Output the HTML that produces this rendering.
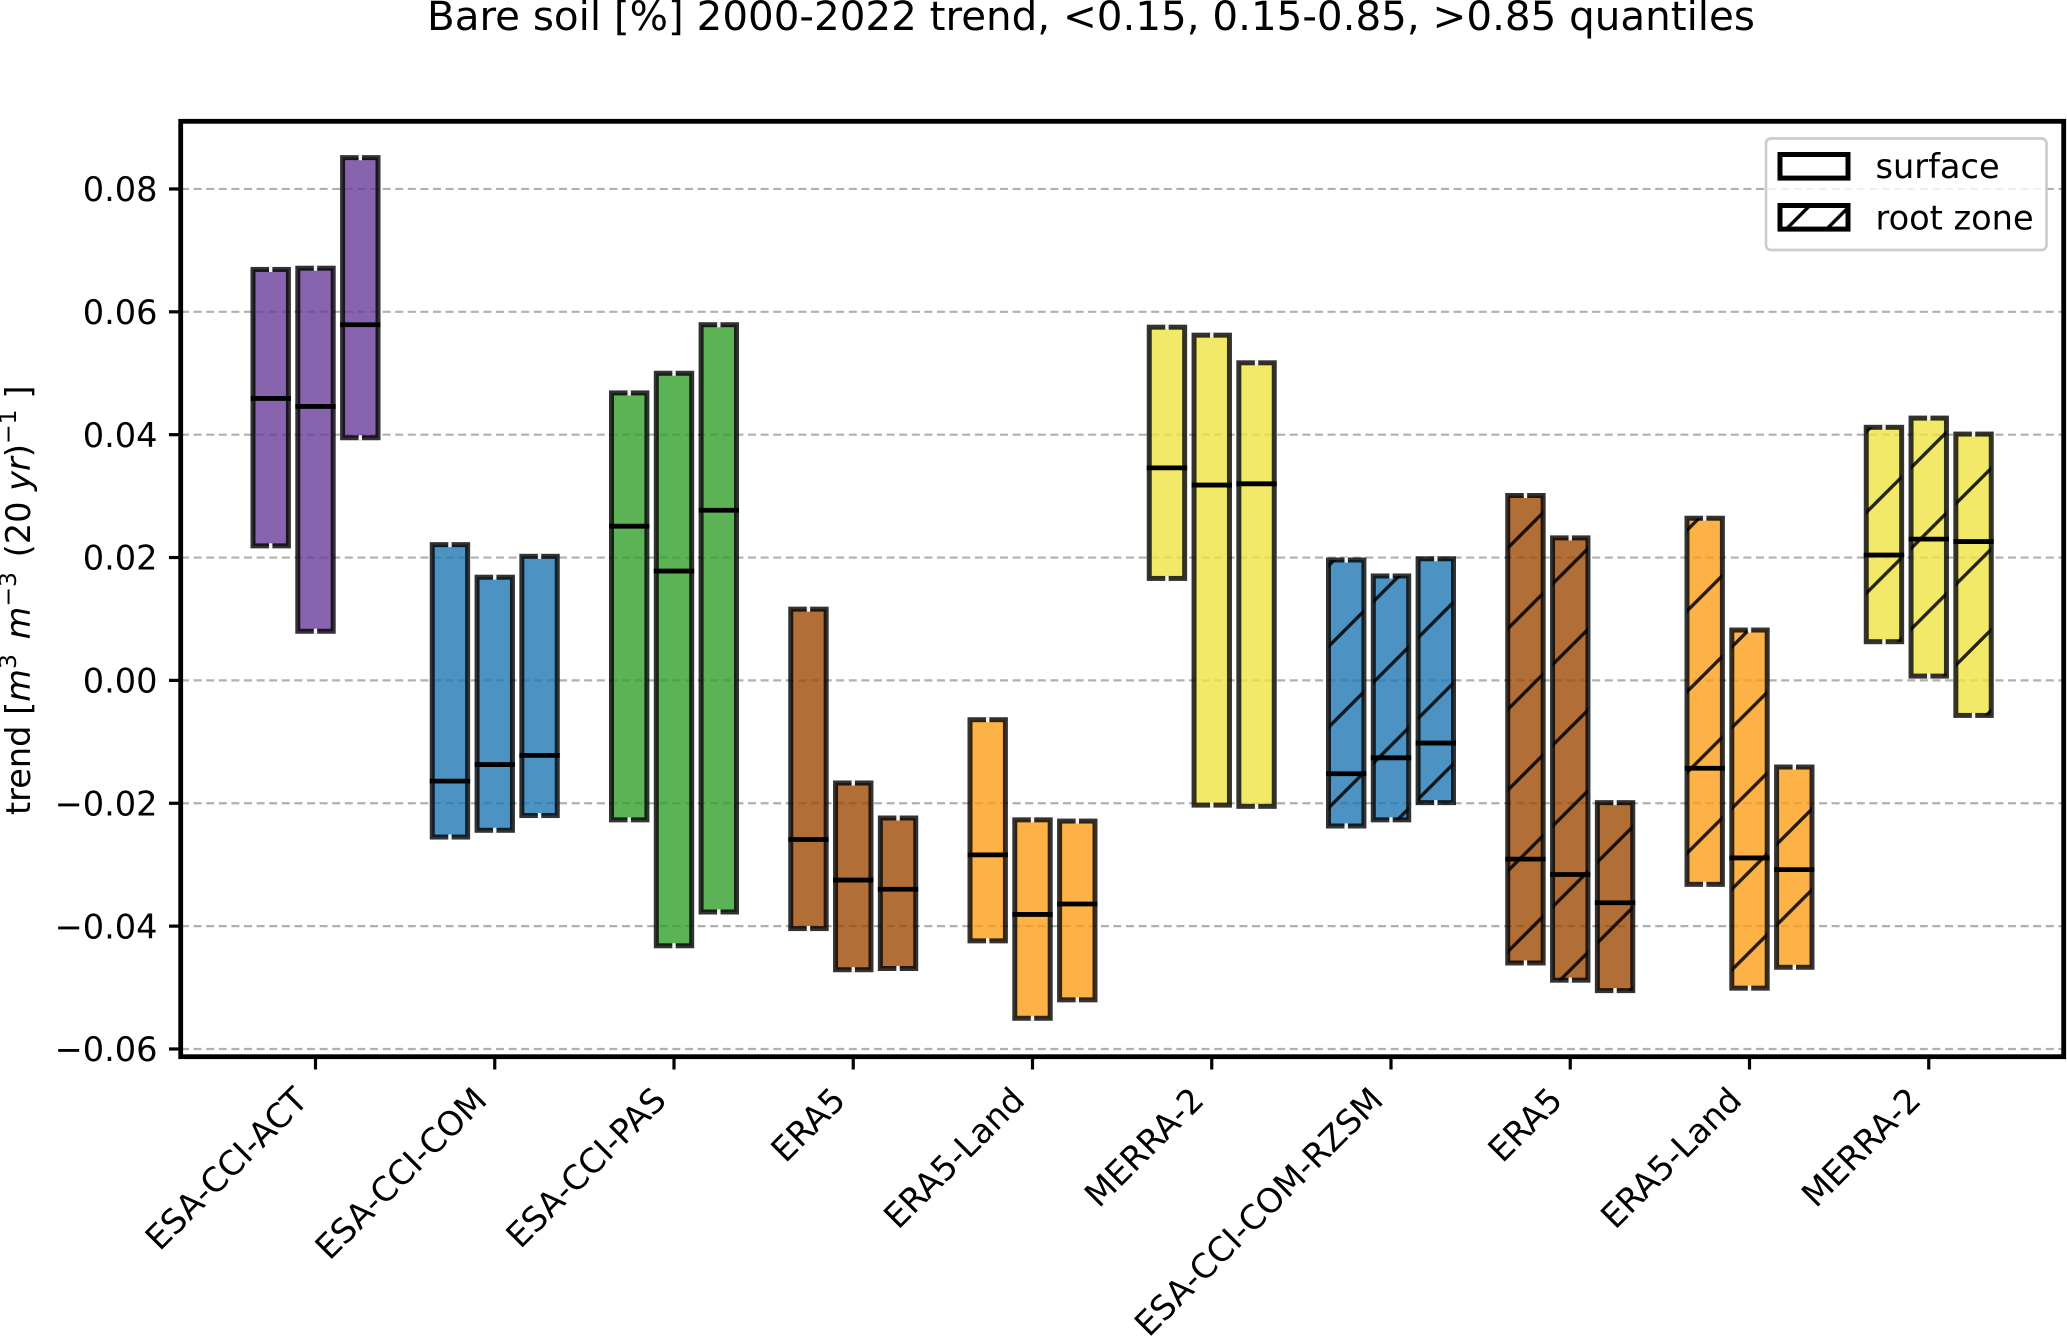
<!DOCTYPE html>
<html lang="en">
<head>
<meta charset="utf-8">
<title>Bare soil trend quantiles</title>
<style>
html,body{margin:0;padding:0;background:#fff;}
svg{display:block;font-family:"DejaVu Sans","Liberation Sans",sans-serif;}
</style>
</head>
<body>
<svg id="chart" xmlns="http://www.w3.org/2000/svg" width="2067" height="1338" viewBox="0 0 2067 1338">
  <defs>
    <pattern id="hatch-bar" patternUnits="userSpaceOnUse" width="80.75" height="80.75" patternTransform="translate(37,0)">
      <line x1="-2" y1="82.75" x2="82.75" y2="-2" stroke="#000" stroke-opacity="0.85" stroke-width="3.4"/>
      <line x1="-2" y1="2" x2="2" y2="-2" stroke="#000" stroke-opacity="0.85" stroke-width="3.4"/>
      <line x1="78.75" y1="82.75" x2="82.75" y2="78.75" stroke="#000" stroke-opacity="0.85" stroke-width="3.4"/>
    </pattern>
    <pattern id="hatch-legend" patternUnits="userSpaceOnUse" width="40.375" height="40.375" patternTransform="translate(37,0)">
      <line x1="-2" y1="42.375" x2="42.375" y2="-2" stroke="#000" stroke-width="3.4"/>
      <line x1="-2" y1="2" x2="2" y2="-2" stroke="#000" stroke-width="3.4"/>
      <line x1="38.375" y1="42.375" x2="42.375" y2="38.375" stroke="#000" stroke-width="3.4"/>
    </pattern>
  </defs>
  <rect x="0" y="0" width="2067" height="1338" fill="#fff"/>
  <text x="427" y="30" font-size="40.4" fill="#000">Bare soil [%] 2000-2022 trend, &lt;0.15, 0.15-0.85, &gt;0.85 quantiles</text>
  <text transform="translate(30,815) rotate(-90)" font-size="33.6" fill="#000">trend [<tspan font-style="italic">m</tspan><tspan font-size="23.5" dy="-14">3</tspan><tspan dy="14" dx="4"> </tspan><tspan font-style="italic">m</tspan><tspan font-size="23.5" dy="-14">−3</tspan><tspan dy="14" dx="4"> (20 </tspan><tspan font-style="italic">yr</tspan>)<tspan font-size="23.5" dy="-14">−1</tspan><tspan dy="14"> ]</tspan></text>
  <g id="grid"></g>
  <g id="bars"></g>
  <g id="ticks"></g>
  <rect x="180.7" y="121.3" width="1883" height="935.4" fill="none" stroke="#000" stroke-width="4.8"/>
  <g>
    <rect x="1766" y="138.5" width="280.5" height="111.5" rx="5" ry="5" fill="#fff" fill-opacity="0.8" stroke="#ccc" stroke-width="2.7"/>
    <g>
      <rect x="1780" y="154.5" width="68" height="23.6" fill="none" stroke="#000" stroke-width="5"/>
      <text x="1875.5" y="178" font-size="33.6" fill="#000">surface</text>
    </g>
    <g>
      <rect x="1780" y="205.5" width="68" height="23.6" fill="url(#hatch-legend)" stroke="#000" stroke-width="5"/>
      <text x="1875.5" y="229.3" font-size="33.6" fill="#000">root zone</text>
    </g>
  </g>
</svg>
<script>
const categories = ["ESA-CCI-ACT","ESA-CCI-COM","ESA-CCI-PAS","ERA5","ERA5-Land","MERRA-2","ESA-CCI-COM-RZSM","ERA5","ERA5-Land","MERRA-2"];
const yTickValues = [0.08,0.06,0.04,0.02,0,-0.02,-0.04,-0.06];
const upperQuantile = [
  [0.0669,0.0671,0.0851],[0.0221,0.0168,0.0202],[0.0468,0.0500,0.0579],[0.0116,-0.0167,-0.0224],[-0.0064,-0.0227,-0.0229],
  [0.0575,0.0562,0.0517],[0.0196,0.0170,0.0198],[0.0301,0.0232,-0.0199],[0.0264,0.0082,-0.0141],[0.0412,0.0427,0.0401]
];
const medianValue = [
  [0.0459,0.0446,0.0579],[-0.0164,-0.0137,-0.0122],[0.0251,0.0178,0.0277],[-0.0259,-0.0325,-0.0340],[-0.0284,-0.0381,-0.0364],
  [0.0346,0.0318,0.0320],[-0.0152,-0.0126,-0.0102],[-0.0291,-0.0316,-0.0362],[-0.0143,-0.0289,-0.0308],[0.0204,0.0230,0.0226]
];
const lowerQuantile = [
  [0.0219,0.0080,0.0395],[-0.0255,-0.0244,-0.0220],[-0.0227,-0.0432,-0.0377],[-0.0404,-0.0471,-0.0469],[-0.0424,-0.0550,-0.0520],
  [0.0166,-0.0203,-0.0205],[-0.0237,-0.0227,-0.0199],[-0.0460,-0.0488,-0.0505],[-0.0332,-0.0501,-0.0467],[0.0063,0.0007,-0.0057]
];
const barColors = ["#6a3d9a","#1f78b4","#33a02c","#9f4a05","#fc9f1a","#f0e442","#1f78b4","#9f4a05","#fc9f1a","#f0e442"];
const isRootZone = [false,false,false,false,false,false,true,true,true,true];

const NS = "http://www.w3.org/2000/svg";
function yScale(v){ return 680.4 - v * 6143; }
function xScale(i){ return 315.5 + 179.25 * i; }
function barCenter(i,j){ return xScale(i) + (j - 1) * 44.8; }
function mk(tag, attrs, parent){
  const el = document.createElementNS(NS, tag);
  for (const k in attrs) el.setAttribute(k, attrs[k]);
  parent.appendChild(el);
  return el;
}
const gridG = document.getElementById("grid");
const ticksG = document.getElementById("ticks");
const barsG = document.getElementById("bars");

yTickValues.forEach(function(v){
  const y = yScale(v);
  const gl = mk("line", {x1:181,x2:2063,y1:y,y2:y,stroke:"#b0b0b0","stroke-width":2.2,"stroke-dasharray":"8 4.6"}, gridG);
  
  
  const t = mk("line", {x1:169,x2:181,y1:y,y2:y,stroke:"#000","stroke-width":3.2}, ticksG);
  
  
  const lab = mk("text", {x:157.5,y:y+12.2,"text-anchor":"end","font-size":33.6,fill:"#000"}, ticksG);
  
  
  lab.textContent = v.toFixed(2).replace("-", "\u2212");
});

categories.forEach(function(name,i){
  const x = xScale(i);
  const t = mk("line", {x1:x,x2:x,y1:1057,y2:1069.5,stroke:"#000","stroke-width":3.2}, ticksG);
  
  
  const lab = mk("text", {transform:"translate("+(x-6)+",1102) rotate(-45)","text-anchor":"end","font-size":33.6,fill:"#000"}, ticksG);
  
  
  lab.textContent = name;

  for (let j = 0; j < 3; j++) {
    const cx = barCenter(i,j);
    const top = yScale(upperQuantile[i][j]);
    const bot = yScale(lowerQuantile[i][j]);
    const med = yScale(medianValue[i][j]);
    const w = 35.4;
    const box = {x:cx-w/2,y:top,width:w,height:bot-top};
    const fill = mk("rect", Object.assign({fill:barColors[i],"fill-opacity":0.8}, box), barsG);
    
    
    if (isRootZone[i]) {
      const h = mk("rect", Object.assign({fill:"url(#hatch-bar)"}, box), barsG);
      
      
    }
    const edge = mk("rect", Object.assign({fill:"none",stroke:"#000","stroke-opacity":0.8,"stroke-width":5}, box), barsG);
    
    
    [top,bot].forEach(function(yy){
      const n = mk("rect", {x:cx-1.7,y:yy-2.6,width:3.4,height:5.2,fill:"#fff","fill-opacity":0.95}, barsG);
      
      
    });
    const m = mk("line", {x1:cx-w/2-2.5,x2:cx+w/2+2.5,y1:med,y2:med,stroke:"#000","stroke-width":4.8}, barsG);
    
    
  }
});
</script>
</body>
</html>
